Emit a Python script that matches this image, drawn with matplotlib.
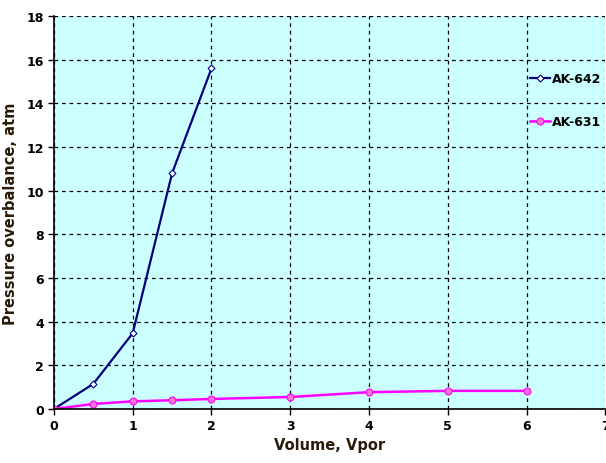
import matplotlib.pyplot as plt

# pressure overbalance vs injected volume for two polymer systems
vol_642 = [0, 0.5, 1, 1.5, 2]
p_642 = [0, 1.15, 3.47, 10.8, 15.6]

vol_631 = [0, 0.5, 1, 1.5, 2, 3, 4, 5, 6]
p_631 = [0, 0.23, 0.35, 0.4, 0.46, 0.55, 0.77, 0.83, 0.83]

fig = plt.figure(figsize=(6.06, 4.64), dpi=100)
ax = fig.add_axes([0.089, 0.1164, 0.91, 0.847])
ax.set_facecolor('#CCFFFF')

ax.plot(vol_642, p_642, color='#000080', lw=1.6, marker='D', ms=3.5,
        mfc='white', mec='#000080', mew=0.8, label='AK-642')
ax.plot(vol_631, p_631, color='#FF00FF', lw=1.8, marker='o', ms=5,
        mfc='#FF77CC', mec='#FF00FF', mew=0.8, label='AK-631')

ax.set_xlim(0, 7)
ax.set_ylim(0, 18)
ax.set_xticks(range(0, 8))
ax.set_yticks(range(0, 19, 2))
ax.grid(True, color='black', ls=(0, (3, 3)), lw=0.9)
ax.set_axisbelow(True)

for s in ['top', 'right']:
    ax.spines[s].set_visible(False)
ax.spines['left'].set_linewidth(1.2)
ax.spines['bottom'].set_linewidth(1.2)
ax.tick_params(direction='out', length=4, width=1, labelsize=9, pad=3)
for lab in ax.get_xticklabels() + ax.get_yticklabels():
    lab.set_fontweight('bold')
    lab.set_fontfamily('Liberation Sans Narrow')

ax.set_xlabel('Volume, Vpor', fontsize=10.5, fontweight='bold', color='#2a1a08', labelpad=4)
ax.set_ylabel('Pressure overbalance, atm', fontsize=10.5, fontweight='bold', color='#2a1a08', labelpad=6)

ax.legend(loc='upper left', bbox_to_anchor=(0.855, 0.87), frameon=False,
          prop={'weight': 'bold', 'size': 9}, handlelength=1.6,
          handletextpad=0.1, labelspacing=2.4, borderaxespad=0)

fig.savefig('out.png', dpi=100)
